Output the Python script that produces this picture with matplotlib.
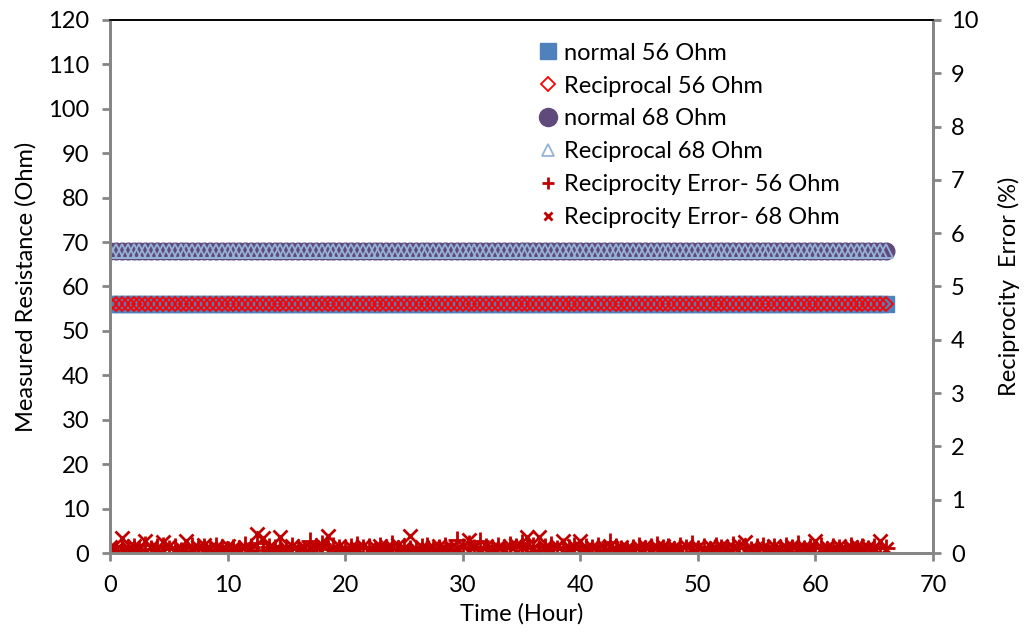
import numpy as np
import matplotlib
matplotlib.use("Agg")
import matplotlib.pyplot as plt

plt.rcParams['font.family'] = ['Lato', 'DejaVu Sans']

# time of each reading (hours), one every half hour
time_h = np.arange(0, 66.5, 0.5)

# measured resistances (Ohm) -- flat at the read-off values
normal_56 = [56.0] * len(time_h)
recip_56 = [56.0] * len(time_h)
normal_68 = [68.0] * len(time_h)
recip_68 = [68.0] * len(time_h)

# reciprocity error (%)
err_56 = [0.10, 0.06, 0.14, 0.09, 0.12, 0.05, 0.15, 0.08, 0.11, 0.13,
          0.07, 0.12, 0.04, 0.10, 0.14, 0.08, 0.11, 0.06, 0.13, 0.09,
          0.05, 0.10, 0.08, 0.15, 0.12, 0.18, 0.06, 0.11, 0.09, 0.14,
          0.07, 0.13, 0.10, 0.05, 0.22, 0.12, 0.16, 0.08, 0.14, 0.10,
          0.06, 0.12, 0.15, 0.09, 0.11, 0.04, 0.13, 0.10, 0.16, 0.07,
          0.12, 0.08, 0.03, 0.11, 0.14, 0.06, 0.10, 0.13, 0.08, 0.24,
          0.12, 0.16, 0.09, 0.23, 0.11, 0.07, 0.14, 0.10, 0.15, 0.12,
          0.18, 0.09, 0.13, 0.06, 0.11, 0.15, 0.08, 0.12, 0.10, 0.14,
          0.07, 0.12, 0.09, 0.13, 0.06, 0.20, 0.11, 0.08, 0.04, 0.10,
          0.13, 0.07, 0.11, 0.15, 0.09, 0.12, 0.06, 0.14, 0.10, 0.16,
          0.08, 0.12, 0.05, 0.13, 0.10, 0.07, 0.15, 0.09, 0.12, 0.06,
          0.11, 0.14, 0.08, 0.12, 0.05, 0.13, 0.10, 0.16, 0.07, 0.11,
          0.09, 0.13, 0.06, 0.12, 0.10, 0.04, 0.14, 0.08, 0.11, 0.07,
          0.12, 0.09, 0.10]
err_68 = [0.12, 0.08, 0.28, 0.10, 0.14, 0.07, 0.22, 0.11, 0.09, 0.21,
          0.13, 0.06, 0.10, 0.22, 0.08, 0.12, 0.15, 0.09, 0.11, 0.07,
          0.13, 0.10, 0.06, 0.12, 0.09, 0.35, 0.28, 0.11, 0.07, 0.30,
          0.10, 0.14, 0.06, 0.12, 0.09, 0.11, 0.15, 0.32, 0.10, 0.13,
          0.08, 0.12, 0.10, 0.14, 0.07, 0.11, 0.13, 0.09, 0.12, 0.15,
          0.10, 0.32, 0.08, 0.12, 0.06, 0.11, 0.14, 0.09, 0.12, 0.10,
          0.13, 0.25, 0.11, 0.08, 0.14, 0.10, 0.12, 0.07, 0.13, 0.15,
          0.11, 0.30, 0.09, 0.30, 0.12, 0.08, 0.14, 0.22, 0.10, 0.13,
          0.22, 0.09, 0.12, 0.07, 0.11, 0.14, 0.08, 0.12, 0.10, 0.05,
          0.11, 0.13, 0.08, 0.12, 0.14, 0.09, 0.11, 0.07, 0.13, 0.10,
          0.12, 0.08, 0.14, 0.10, 0.13, 0.09, 0.11, 0.15, 0.20, 0.10,
          0.07, 0.12, 0.10, 0.14, 0.08, 0.11, 0.13, 0.09, 0.12, 0.10,
          0.22, 0.08, 0.12, 0.10, 0.14, 0.07, 0.11, 0.13, 0.09, 0.12,
          0.10, 0.22, 0.08]

grey = '#868686'
fs = 17

fig = plt.figure(figsize=(10.28, 6.32), dpi=100)
ax = fig.add_axes([0.107, 0.125, 0.8006, 0.8434])
ax2 = ax.twinx()

h1, = ax.plot(time_h, normal_56, ls='none', marker='s', ms=11, color='#4F81BD',
              mec='#4F81BD', label='normal 56 Ohm')
h2, = ax.plot(time_h, recip_56, ls='none', marker='D', ms=7, mfc='none',
              mec='#FF0000', mew=1.3, label='Reciprocal 56 Ohm')
h3, = ax.plot(time_h, normal_68, ls='none', marker='o', ms=12, color='#604A7B',
              mec='#604A7B', label='normal 68 Ohm')
h4, = ax.plot(time_h, recip_68, ls='none', marker='^', ms=10, mfc='none',
              mec='#95B3D7', mew=1.3, label='Reciprocal 68 Ohm')
h5, = ax2.plot(time_h, err_56, ls='none', marker='+', ms=13, mew=2,
               color='#C00000', label='Reciprocity Error- 56 Ohm')
h6, = ax2.plot(time_h, err_68, ls='none', marker='x', ms=10, mew=2,
               color='#C00000', label='Reciprocity Error- 68 Ohm')

ax.set_xlim(0, 70)
ax.set_ylim(0, 120)
ax2.set_ylim(0, 10)
ax.set_xticks(np.arange(0, 71, 10))
ax.set_yticks(np.arange(0, 121, 10))
ax2.set_yticks(np.arange(0, 11, 1))

for a in (ax, ax2):
    for s in ('left', 'right', 'bottom'):
        a.spines[s].set_color(grey)
        a.spines[s].set_linewidth(2)
    a.spines['top'].set_color('black')
    a.spines['top'].set_linewidth(1.2)
    a.tick_params(colors=grey, labelcolor='black', labelsize=fs, width=2, length=6)
ax.tick_params(axis='y', pad=9)
ax2.tick_params(axis='y', pad=7)
ax.tick_params(axis='x', length=6, pad=10)

ax.set_xlabel('Time (Hour)', fontsize=fs, labelpad=5)
ax.set_ylabel('Measured Resistance (Ohm)', fontsize=fs, labelpad=8)
ax2.set_ylabel('Reciprocity  Error (%)', fontsize=fs, labelpad=14)

leg = ax2.legend(handles=[h1, h2, h3, h4, h5, h6], loc='upper left',
                 bbox_to_anchor=(0.509, 0.975), frameon=False, fontsize=fs,
                 handlelength=0.8, handletextpad=0.3, labelspacing=0.5,
                 borderaxespad=0)
# legend markers a bit different from the plotted ones
sizes = [12, 7, 13, 9, 9, 6]
for hl, s in zip(leg.legend_handles, sizes):
    hl.set_markersize(s)

fig.savefig('out.png', dpi=100)
